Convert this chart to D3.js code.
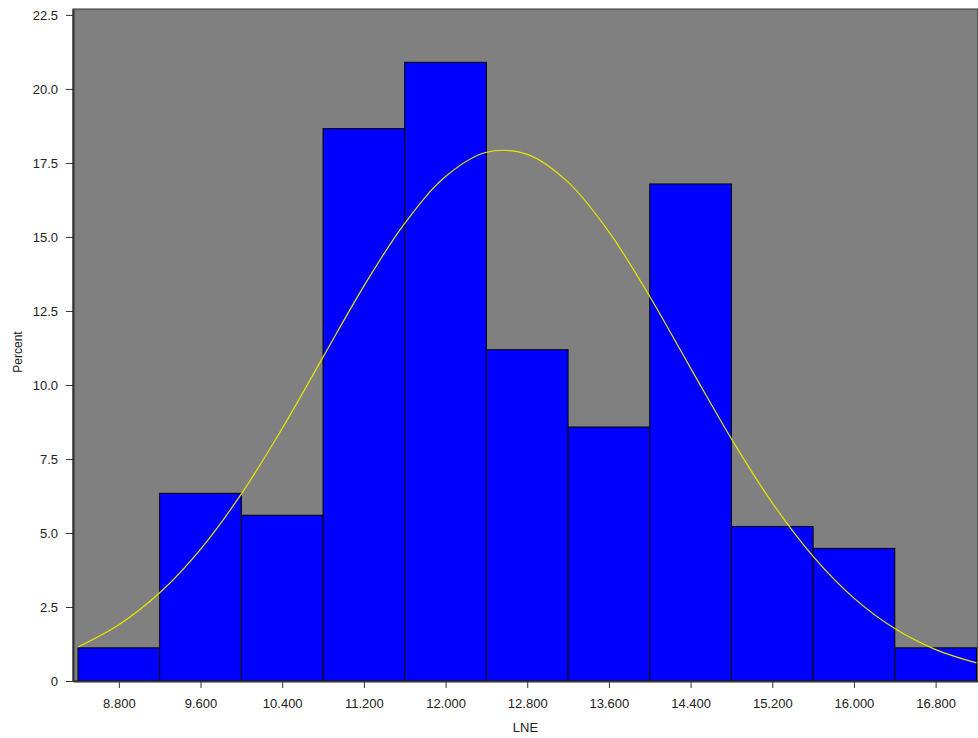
<!DOCTYPE html>
<html><head><meta charset="utf-8">
<script src="https://cdn.jsdelivr.net/npm/d3@7"></script>
<style>body{margin:0;background:#fff;}svg{display:block;font-family:"Liberation Sans",Arial,sans-serif;}</style>
</head><body><svg id="c" width="978" height="738"></svg>
<script>
// bin centers and percent heights
const binCenters = [8.8, 9.6, 10.4, 11.2, 12.0, 12.8, 13.6, 14.4, 15.2, 16.0, 16.8];
const percents   = [1.12, 6.34, 5.60, 18.66, 20.90, 11.19, 8.58, 16.79, 5.22, 4.48, 1.12];
const binWidth = 0.8;
// fitted normal curve
const curveX = [8.4, 8.8, 9.2, 9.6, 10.0, 10.4, 10.8, 11.2, 11.6, 12.0, 12.4, 12.8, 13.2, 13.6, 14.0, 14.4, 14.8, 15.2, 15.6, 16.0, 16.4, 16.8, 17.2];
const curveY = [1.15, 1.90, 2.98, 4.45, 6.32, 8.53, 10.94, 13.34, 15.46, 17.04, 17.86, 17.79, 16.85, 15.17, 12.99, 10.57, 8.18, 6.02, 4.21, 2.80, 1.77, 1.06, 0.61];
const yTicks = [0, 2.5, 5, 7.5, 10, 12.5, 15, 17.5, 20, 22.5];
const xTicks = [8.8, 9.6, 10.4, 11.2, 12.0, 12.8, 13.6, 14.4, 15.2, 16.0, 16.8];
const xLabel = "LNE", yLabel = "Percent";

const L = 73, R = 978, T = 9, B = 681;
const svg = d3.select("#c");
const x = d3.scaleLinear().domain([8.351, 17.215]).range([L, R]);
const y = d3.scaleLinear().domain([0, 22.7]).range([B, T]);

svg.append("rect").attr("x", L).attr("y", T).attr("width", R - L).attr("height", B - T)
  .attr("fill", "#808080").attr("stroke", "#333").attr("stroke-width", 1);

svg.append("g").selectAll("rect").data(binCenters).join("rect")
  .attr("x", (d) => x(d - binWidth / 2))
  .attr("width", (d) => x(d + binWidth / 2) - x(d - binWidth / 2))
  .attr("y", (d, i) => y(percents[i]))
  .attr("height", (d, i) => B - y(percents[i]))
  .attr("fill", "#0000ff").attr("stroke", "#000").attr("stroke-width", 1);

const line = d3.line().x((d) => x(d[0])).y((d) => y(d[1])).curve(d3.curveCatmullRom);
svg.append("path").datum(curveX.map((v, i) => [v, curveY[i]]))
  .attr("d", line).attr("fill", "none").attr("stroke", "#e6e600").attr("stroke-width", 1.2);

const yAxis = svg.append("g").attr("transform", `translate(${L},0)`)
  .call(d3.axisLeft(y).tickValues(yTicks).tickSizeInner(7).tickSizeOuter(0).tickPadding(8)
    .tickFormat((d) => d === 0 ? "0" : d3.format(".1f")(d)));
const xAxis = svg.append("g").attr("transform", `translate(0,${B})`)
  .call(d3.axisBottom(x).tickValues(xTicks).tickSizeInner(7).tickSizeOuter(0).tickPadding(11)
    .tickFormat(d3.format(".3f")));
[yAxis, xAxis].forEach((g) => {
  g.select(".domain").attr("stroke", "#333").attr("stroke-width", 2);
  g.selectAll(".tick line").attr("stroke", "#333");
  g.selectAll("text").attr("fill", "#222").style("font-size", "13px").style("font-family", "'Liberation Sans',Arial,sans-serif");
});

svg.append("text").attr("x", (L + R) / 2).attr("y", 732).attr("text-anchor", "middle")
  .attr("fill", "#222").style("font-size", "13px").text(xLabel);
svg.append("text").attr("transform", "translate(22,352) rotate(-90)").attr("text-anchor", "middle")
  .attr("fill", "#222").style("font-size", "12px").text(yLabel);
</script></body></html>
